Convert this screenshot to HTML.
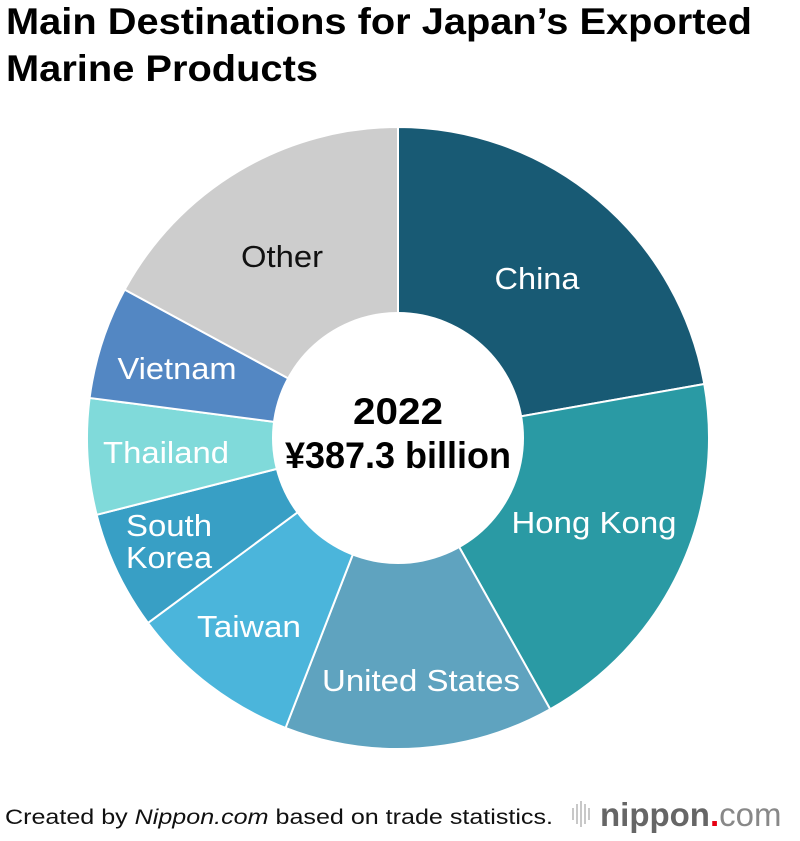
<!DOCTYPE html>
<html><head><meta charset="utf-8"><style>
body{margin:0;background:#fff;width:800px;height:836px;overflow:hidden}
text{font-family:"Liberation Sans",sans-serif}
</style></head><body>
<svg id="s" width="800" height="836" viewBox="0 0 800 836" xmlns="http://www.w3.org/2000/svg">
<text x="6" y="34" font-size="37" font-weight="bold" textLength="746" lengthAdjust="spacingAndGlyphs">Main Destinations for Japan’s Exported</text>
<text x="6" y="81" font-size="37" font-weight="bold" textLength="312" lengthAdjust="spacingAndGlyphs">Marine Products</text>
<g id="pie"></g>
<circle cx="398" cy="438" r="126" fill="#fff"/>
<text x="398" y="424" font-size="37" font-weight="bold" text-anchor="middle" textLength="90" lengthAdjust="spacingAndGlyphs">2022</text>
<text x="398" y="468" font-size="37" font-weight="bold" text-anchor="middle" textLength="226" lengthAdjust="spacingAndGlyphs">¥387.3 billion</text>
<g font-size="31" fill="#fff" text-anchor="middle">
<text x="537" y="289" textLength="85" lengthAdjust="spacingAndGlyphs">China</text>
<text x="594" y="533" textLength="165" lengthAdjust="spacingAndGlyphs">Hong Kong</text>
<text x="421" y="691" textLength="198" lengthAdjust="spacingAndGlyphs">United States</text>
<text x="249" y="637" textLength="104" lengthAdjust="spacingAndGlyphs">Taiwan</text>
<text x="169" y="536" textLength="86" lengthAdjust="spacingAndGlyphs">South</text>
<text x="169" y="568" textLength="86" lengthAdjust="spacingAndGlyphs">Korea</text>
<text x="166" y="463" textLength="126" lengthAdjust="spacingAndGlyphs">Thailand</text>
<text x="177" y="379" textLength="119" lengthAdjust="spacingAndGlyphs">Vietnam</text>
<text x="282" y="267" fill="#111" textLength="82" lengthAdjust="spacingAndGlyphs">Other</text>
</g>
<text x="5" y="824" font-size="21" fill="#111" textLength="548" lengthAdjust="spacingAndGlyphs">Created by <tspan font-style="italic">Nippon.com</tspan> based on trade statistics.</text>
<g fill="#c8c8c8">
<rect x="572" y="808" width="2" height="12"/><rect x="576" y="804" width="2" height="20"/><rect x="580" y="801" width="2" height="26"/><rect x="584" y="804" width="2" height="20"/><rect x="588" y="808" width="2" height="12"/>
</g>
<text x="600" y="826" font-size="33" font-weight="bold" fill="#666">nippon<tspan fill="#e60012">.</tspan><tspan font-weight="normal" fill="#888">com</tspan></text>
</svg>
<script>
var cx=398,cy=438,r=311;
var seg=[[0,80,"#185a74"],[80,150.7,"#2a9aa4"],[150.7,201.2,"#5fa3bf"],[201.2,233.5,"#4bb5db"],[233.5,255.7,"#389fc5"],[255.7,277.4,"#80dada"],[277.4,298.5,"#5387c3"],[298.5,360,"#cdcdcd"]];
var g=document.getElementById("pie"),h="";
function p(a){a=a*Math.PI/180;return (cx+r*Math.sin(a)).toFixed(2)+" "+(cy-r*Math.cos(a)).toFixed(2);}
seg.forEach(function(s){var l=(s[1]-s[0])>180?1:0;
h+='<path d="M'+cx+' '+cy+' L'+p(s[0])+' A'+r+' '+r+' 0 '+l+' 1 '+p(s[1])+' Z" fill="'+s[2]+'" stroke="#fff" stroke-width="2"/>';});
g.innerHTML=h;
</script>
</body></html>
